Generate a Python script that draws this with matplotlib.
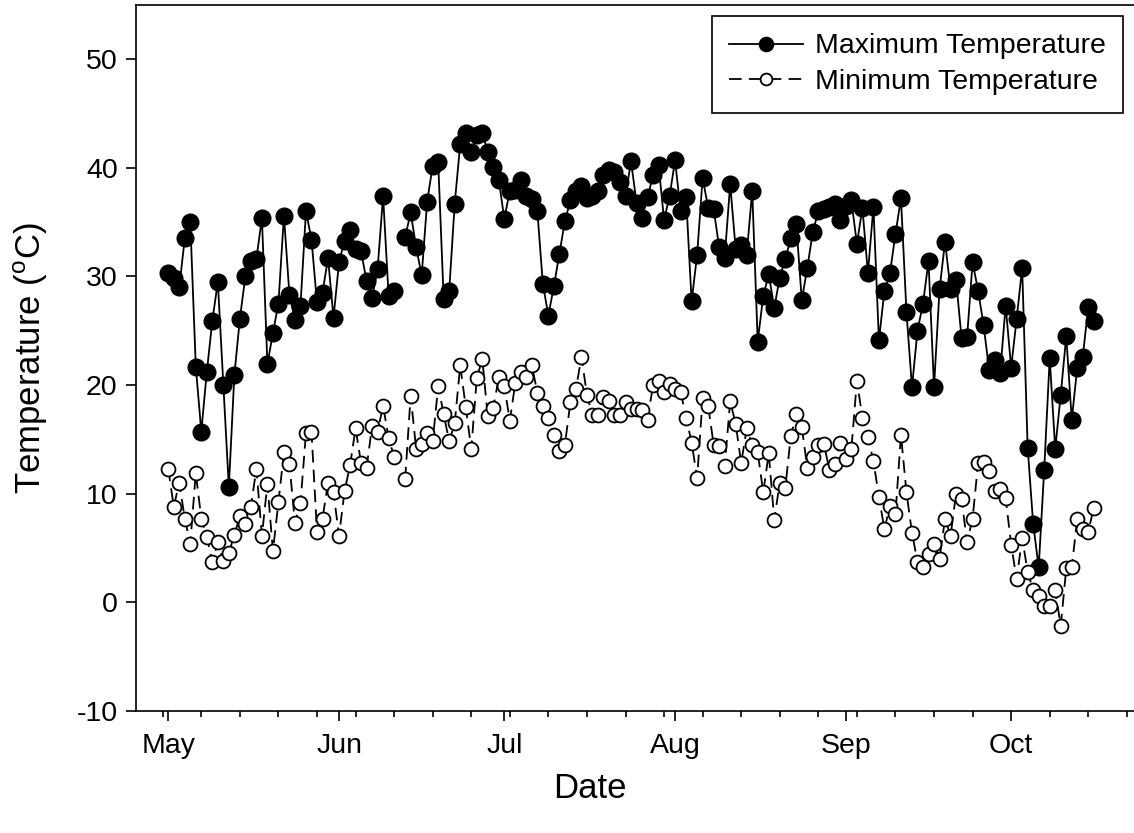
import matplotlib
matplotlib.use("Agg")
import matplotlib.pyplot as plt
import numpy as np
import pandas as pd

plt.rcParams['font.family'] = ['Liberation Sans', 'DejaVu Sans']
plt.rcParams['axes.unicode_minus'] = False

# daily values, 1 May to 16 Oct
dates = pd.date_range('2013-05-01', periods=169, freq='D')

t_max = [30.3, 29.9, 29.0, 33.5, 35.0, 21.7, 15.7, 21.2, 25.9, 29.5,
         20.0, 10.6, 20.9, 26.1, 30.0, 31.4, 31.6, 35.4, 21.9, 24.8,
         27.5, 35.6, 28.3, 26.0, 27.3, 36.0, 33.4, 27.6, 28.5, 31.7,
         26.2, 31.3, 33.3, 34.3, 32.5, 32.3, 29.6, 28.0, 30.7, 37.4,
         28.2, 28.7, np.nan, 33.6, 35.9, 32.7, 30.1, 36.9, 40.2, 40.5,
         27.9, 28.7, 36.7, 42.2, 43.2, 41.5, 43.0, 43.2, 41.5, 40.1,
         38.9, 35.3, 37.9, 38.0, 38.9, 37.4, 37.1, 36.0, 29.3, 26.4,
         29.1, 32.1, 35.1, 37.0, 37.9, 38.3, 37.2, 37.4, 37.9, 39.3,
         39.8, 39.6, 38.7, 37.4, 40.6, 36.8, 35.4, 37.3, 39.3, 40.3,
         35.2, 37.4, 40.7, 36.0, 37.3, 27.7, 32.0, 39.1, 36.3, 36.2,
         32.7, 31.7, 38.5, 32.5, 32.9, 32.0, 37.9, 24.0, 28.2, 30.2,
         27.1, 29.9, 31.6, 33.5, 34.8, 27.8, 30.8, 34.1, 36.0, 36.2,
         36.4, 36.7, 35.2, 36.5, 37.0, 33.0, 36.3, 30.3, 36.4, 24.1,
         28.7, 30.3, 33.9, 37.2, 26.7, 19.8, 25.0, 27.5, 31.4, 19.8,
         28.8, 33.2, 28.8, 29.7, 24.3, 24.4, 31.3, 28.7, 25.5, 21.4,
         22.3, 21.1, 27.3, 21.6, 26.1, 30.8, 14.2, 7.2, 3.2, 12.2,
         22.5, 14.1, 19.1, 24.5, 16.8, 21.6, 22.6, 27.2, 25.9]

t_min = [12.3, 8.8, 11.0, 7.7, 5.4, 11.9, 7.7, 6.0, 3.7, 5.5,
         3.8, 4.5, 6.2, 7.9, 7.2, 8.8, 12.3, 6.1, 10.9, 4.7,
         9.2, 13.8, 12.7, 7.3, 9.1, 15.6, 15.7, 6.5, 7.7, 11.0,
         10.1, 6.1, 10.2, 12.6, 16.0, 12.8, 12.4, 16.2, 15.7, 18.1,
         15.1, 13.4, np.nan, 11.3, 19.0, 14.1, 14.6, 15.6, 14.8, 19.9,
         17.3, 14.8, 16.5, 21.8, 18.0, 14.1, 20.6, 22.4, 17.1, 17.9,
         20.7, 19.9, 16.7, 20.2, 21.2, 20.7, 21.8, 19.3, 18.1, 17.0,
         15.4, 13.9, 14.5, 18.4, 19.6, 22.6, 19.1, 17.2, 17.2, 18.9,
         18.5, 17.2, 17.2, 18.4, 17.8, 17.8, 17.7, 16.8, 20.0, 20.4,
         19.4, 20.1, 19.6, 19.4, 17.0, 14.7, 11.4, 18.8, 18.1, 14.5,
         14.4, 12.5, 18.5, 16.4, 12.8, 16.0, 14.5, 13.8, 10.1, 13.7,
         7.6, 11.0, 10.5, 15.3, 17.3, 16.1, 12.4, 13.4, 14.5, 14.6,
         12.2, 12.7, 14.7, 13.2, 14.1, 20.4, 17.0, 15.2, 13.0, 9.7,
         6.7, 8.9, 8.1, 15.4, 10.1, 6.4, 3.7, 3.2, 4.4, 5.4,
         4.0, 7.7, 6.1, 10.0, 9.5, 5.5, 7.7, 12.8, 12.9, 12.1,
         10.2, 10.4, 9.6, 5.3, 2.1, 5.9, 2.8, 1.1, 0.6, -0.4,
         -0.4, 1.1, -2.2, 3.1, 3.2, 7.7, 6.7, 6.5, 8.7]

month_ticks = pd.date_range('2013-05-01', '2013-10-01', freq='MS')
month_labels = ['May', 'Jun', 'Jul', 'Aug', 'Sep', 'Oct']
week_ticks = pd.date_range('2013-04-30', '2013-10-22', freq='7D')
y_ticks = [-10, 0, 10, 20, 30, 40, 50]

fig = plt.figure(figsize=(11.34, 8.33), dpi=100)
ax = fig.add_axes([0.1197, 0.1468, 0.8803, 0.8472])

ax.plot(dates, t_max, color='black', lw=1.3, marker='o', ms=12,
        mfc='black', mec='black', label='Maximum Temperature')
ax.plot(dates, t_min, color='black', lw=1.3, ls=(0, (7, 4)), marker='o',
        ms=10, mfc='white', mec='black', mew=1.3,
        label='Minimum Temperature')

start = pd.Timestamp('2013-05-01')
ax.set_xlim(start - pd.Timedelta(days=5.9), start + pd.Timedelta(days=175.3))
ax.set_ylim(-10, 55)

ax.set_xticks(month_ticks)
ax.set_xticklabels(month_labels)
ax.set_xticks(week_ticks, minor=True)
ax.set_yticks(y_ticks)

ax.tick_params(axis='both', which='major', direction='out', length=7,
               width=1.2, labelsize=20.5)
ax.tick_params(axis='x', which='major', pad=9)
ax.tick_params(axis='y', which='major', pad=6)
ax.tick_params(axis='x', which='minor', direction='out', length=4,
               width=1.2)
ax.tick_params(top=False, right=False, which='both')

for s in ['left', 'bottom', 'top']:
    ax.spines[s].set_linewidth(1.2)
ax.spines['right'].set_visible(False)

ax.set_xlabel('Date', fontsize=25, va='center')
ax.xaxis.set_label_coords(0.455, -0.11)
ax.set_ylabel('Temperature ($^\\mathregular{o}$C)', fontsize=25, labelpad=19)

leg = ax.legend(loc='upper right', fontsize=20.5, frameon=True, fancybox=False,
                edgecolor='black', framealpha=1, handlelength=2.6,
                handletextpad=0.4, borderaxespad=0.4, labelspacing=0.35,
                borderpad=0.6, markerscale=0.85)
leg.get_frame().set_linewidth(1.2)

fig.savefig('out.png', dpi=100)
